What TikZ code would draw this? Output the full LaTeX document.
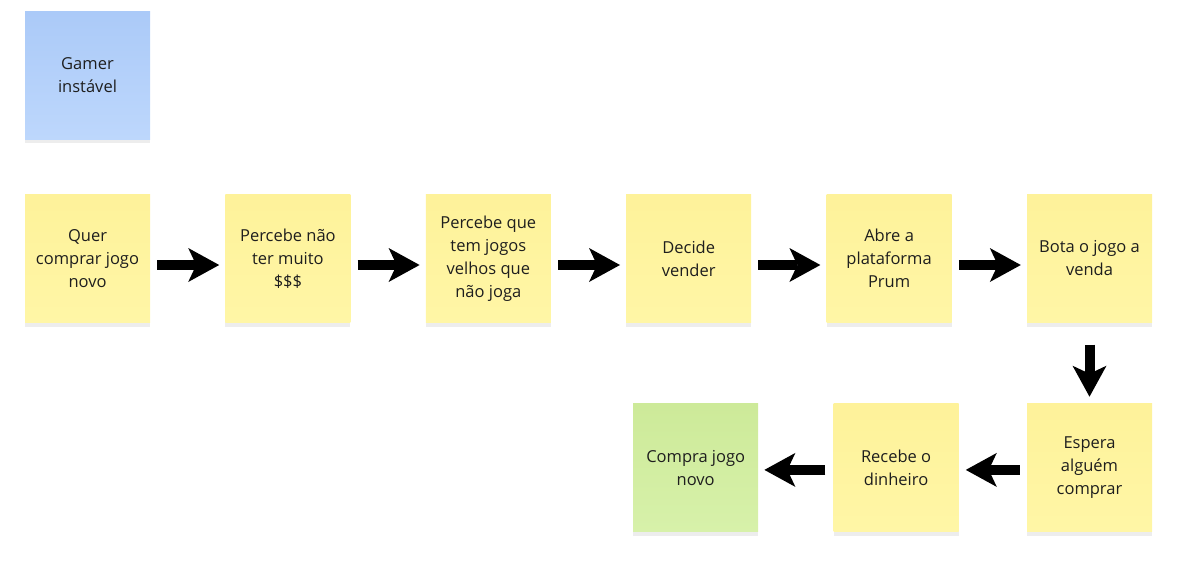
\documentclass[tikz,border=0pt]{standalone}
\usepackage{fontspec}
\setmainfont{Open Sans}
\usetikzlibrary{arrows.meta,positioning,shadows}

\definecolor{noteyellowtop}{HTML}{FEF29A}
\definecolor{noteyellowbot}{HTML}{FFF6A6}
\definecolor{notebluetop}{HTML}{ABCAF8}
\definecolor{notebluebot}{HTML}{BDD7FC}
\definecolor{notegreentop}{HTML}{CDEA99}
\definecolor{notegreenbot}{HTML}{D7F1AA}
\definecolor{notetext}{HTML}{1E1E1E}

\begin{document}
\begin{tikzpicture}[
  note/.style={rectangle, minimum width=125pt, minimum height=128pt, align=center,
    inner sep=0pt, text=notetext, font=\fontsize{16.5}{23}\selectfont,
    drop shadow={opacity=0.14, shadow xshift=0pt, shadow yshift=-4pt}},
  yellownote/.style={note, top color=noteyellowtop, bottom color=noteyellowbot},
  bluenote/.style={note, top color=notebluetop, bottom color=notebluebot},
  greennote/.style={note, top color=notegreentop, bottom color=notegreenbot},
  flow/.style={line width=10pt, line join=round,
    -{Stealth[length=31pt, width=34pt, inset=8pt, line width=0pt]}}]
\useasboundingbox (0,0) rectangle (1187pt,-570pt);
\node[yellownote] (quer) at (87.5pt,-258.5pt) {Quer\\comprar jogo\\novo};
\node[bluenote, above=55pt of quer] (gamer) {Gamer\\instável};
\node[yellownote, right=75pt of quer] (dinheiro) {Percebe não\\ter muito\\\$\$\$};
\node[yellownote, right=75pt of dinheiro] (velhos) {Percebe que\\tem jogos\\velhos que\\não joga};
\node[yellownote, right=75pt of velhos] (vender) {Decide\\vender};
\node[yellownote, right=75pt of vender] (prum) {Abre a\\plataforma\\Prum};
\node[yellownote, right=75pt of prum] (venda) {Bota o jogo a\\venda};
\node[yellownote, below=81pt of venda] (espera) {Espera\\alguém\\comprar};
\node[yellownote, left=68pt of espera] (recebe) {Recebe o\\dinheiro};
\node[greennote, left=75pt of recebe] (compra) {Compra jogo\\novo};
\draw[flow, shorten <=7pt, shorten >=6pt] ([yshift=-6.5pt]quer.east) -- ([yshift=-6.5pt]dinheiro.west);
\draw[flow, shorten <=7pt, shorten >=6pt] ([yshift=-6.5pt]dinheiro.east) -- ([yshift=-6.5pt]velhos.west);
\draw[flow, shorten <=7pt, shorten >=6pt] ([yshift=-6.5pt]velhos.east) -- ([yshift=-6.5pt]vender.west);
\draw[flow, shorten <=7pt, shorten >=6pt] ([yshift=-6.5pt]vender.east) -- ([yshift=-6.5pt]prum.west);
\draw[flow, shorten <=7pt, shorten >=6pt] ([yshift=-6.5pt]prum.east) -- ([yshift=-6.5pt]venda.west);
\draw[flow, shorten <=22pt, shorten >=7pt] (venda.south) -- (espera.north);
\draw[flow, shorten <=7pt, shorten >=7pt] ([yshift=-2pt]espera.west) -- ([yshift=-2pt]recebe.east);
\draw[flow, shorten <=8pt, shorten >=6pt] ([yshift=-2pt]recebe.west) -- ([yshift=-2pt]compra.east);
\end{tikzpicture}
\end{document}
